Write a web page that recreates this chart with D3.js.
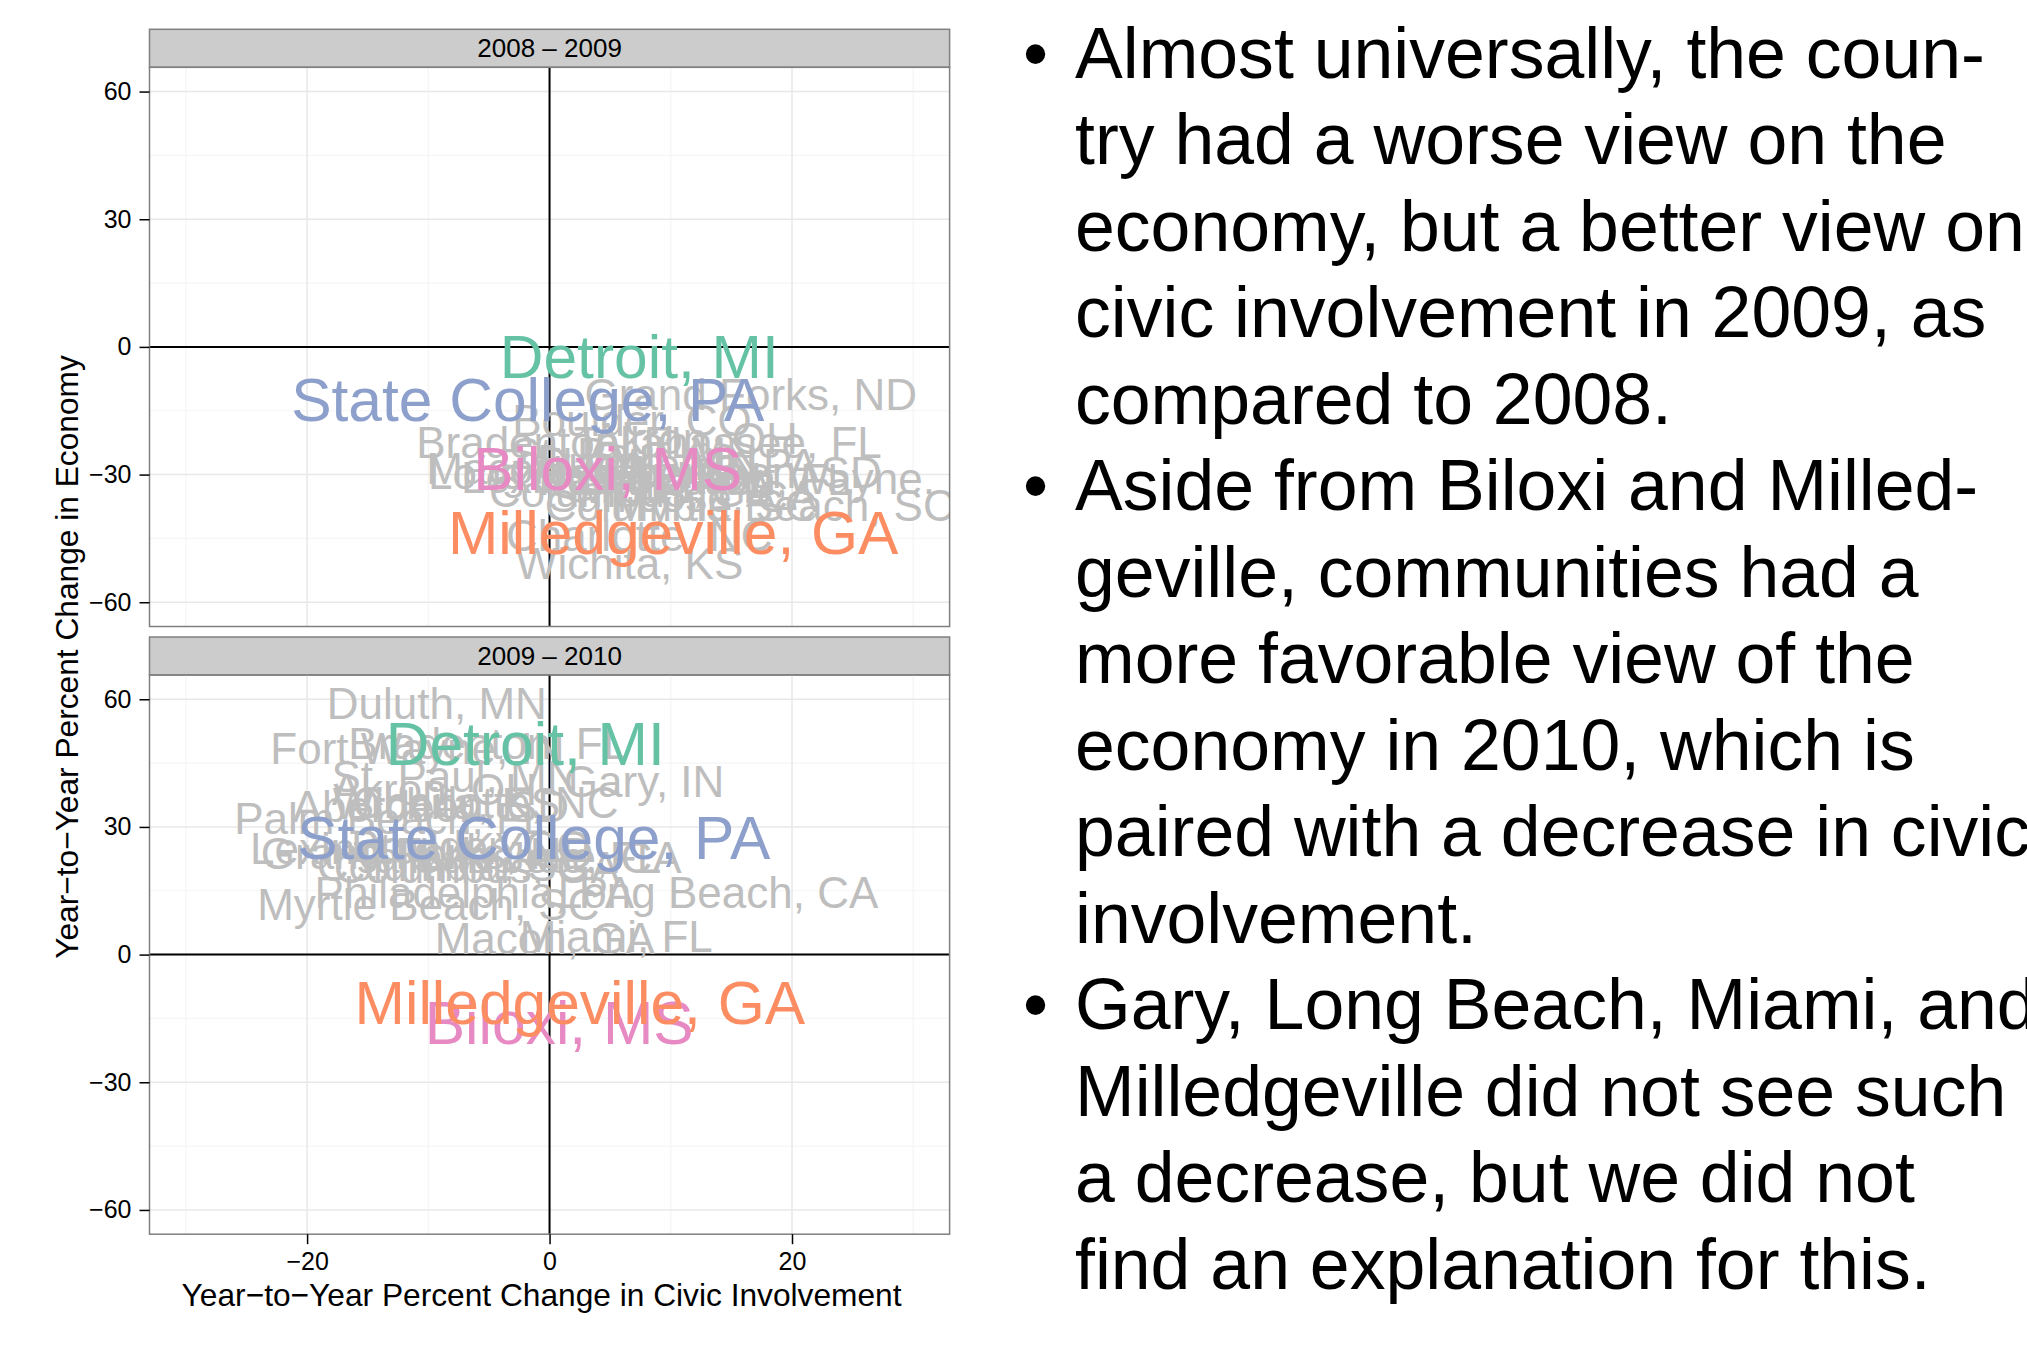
<!DOCTYPE html>
<html>
<head>
<meta charset="utf-8">
<script src="https://cdn.jsdelivr.net/npm/d3@7"></script>
<style>
  body { margin: 0; background: #fff; overflow: hidden; }
  text { font-family: "Liberation Sans", Arial, Helvetica, sans-serif; }
</style>
</head>
<body>
<svg id="chart"></svg>
<script>
// Data
const periods = ["2008 – 2009", "2009 – 2010"];

const cities = [
  "Aberdeen, SD", "Akron, OH", "Biloxi, MS", "Boulder, CO", "Bradenton, FL",
  "Charlotte, NC", "Columbia, SC", "Columbus, GA", "Detroit, MI", "Duluth, MN",
  "Fort Wayne, IN", "Gary, IN", "Grand Forks, ND", "Lexington, KY", "Long Beach, CA",
  "Macon, GA", "Miami, FL", "Milledgeville, GA", "Myrtle Beach, SC", "Palm Beach, FL",
  "Philadelphia, PA", "San Jose, CA", "St. Paul, MN", "State College, PA", "Tallahassee, FL",
  "Wichita, KS"
];

const civic0809 = [16.0, 12.0, 4.8, 6.8, 0.5, 7.4, 10.8, 6.8, 7.4, 8.0,
  24.3, 9.0, 16.6, 4.0, 3.2, -1.1, 10.0, 10.2, 19.3, 12.0,
  9.0, 11.0, 7.0, -1.8, 14.7, 6.6];
const econ0809 = [-29.4, -21.4, -28.6, -17.1, -22.5, -44.3, -37.1, -34.0, -2.3, -27.0,
  -30.8, -31.0, -11.2, -30.5, -29.6, -28.4, -33.0, -43.6, -37.1, -31.0,
  -27.5, -35.0, -25.0, -12.2, -22.5, -50.8];

const civic0910 = [-9.8, -9.5, 0.8, -6.5, -5.1, -5.3, -8.0, -6.0, -2.0, -9.3,
  -10.9, 7.8, -10.1, -13.4, 13.9, -0.4, 5.5, 2.5, -10.0, -13.1,
  -6.2, -0.2, -7.8, -1.3, -3.5, -8.5];
const econ0910 = [34.9, 38.8, -16.0, 25.5, 49.6, 35.8, 21.0, 20.5, 49.6, 59.1,
  48.5, 40.8, 23.8, 24.9, 14.6, 3.8, 4.3, -11.2, 11.8, 32.0,
  14.7, 22.9, 41.9, 27.5, 23.0, 35.5];

const highlighted = ["Detroit, MI", "Milledgeville, GA", "State College, PA", "Biloxi, MS"];
const highlightColors = ["#66c2a5", "#fc8d62", "#8da0cb", "#e78ac3"];

const xTicks = [-20, 0, 20];
const xMinor = [-30, -10, 10, 30];
const yTicks = [-60, -30, 0, 30, 60];
const yMinor = [-45, -15, 15, 45];

const xTitle = "Year\u2212to\u2212Year Percent Change in Civic Involvement";
const yTitle = "Year\u2212to\u2212Year Percent Change in Economy";

const notes = [
  ["Almost universally, the coun-", "try had a worse view on the", "economy, but a better view on",
   "civic involvement in 2009, as", "compared to 2008."],
  ["Aside from Biloxi and Milled-", "geville, communities had a", "more favorable view of the",
   "economy in 2010, which is", "paired with a decrease in civic", "involvement."],
  ["Gary, Long Beach, Miami, and", "Milledgeville did not see such", "a decrease, but we did not",
   "find an explanation for this."]
];

// Layout
const width = 2027;
const height = 1347;
const panelLeft = 149.5;
const panelRight = 949.6;
const panelTops = [67.3, 675];
const panelHeight = 559.2;
const stripHeight = 38;

const xScale = d3.scaleLinear().domain([-33, 33]).range([panelLeft, panelRight]);

const colorOf = d3.scaleOrdinal().domain(highlighted).range(highlightColors).unknown("#bebebe");

const fmt = d => d < 0 ? "\u2212" + Math.abs(d) : String(d);

const svg = d3.select("#chart").attr("width", width).attr("height", height);
svg.append("rect").attr("width", width).attr("height", height).attr("fill", "#fff");

const defs = svg.append("defs");

periods.forEach((period, p) => {
  const top = panelTops[p];
  const yScale = d3.scaleLinear().domain([-65.7, 65.7]).range([top + panelHeight, top]);
  const civic = p === 0 ? civic0809 : civic0910;
  const econ = p === 0 ? econ0809 : econ0910;
  const rows = cities.map((c, i) => ({city: c, x: civic[i], y: econ[i]}));

  // strip
  svg.append("rect")
    .attr("x", panelLeft).attr("y", top - stripHeight)
    .attr("width", panelRight - panelLeft).attr("height", stripHeight)
    .attr("fill", "#cccccc").attr("stroke", "#7f7f7f").attr("stroke-width", 1.5);
  svg.append("text")
    .attr("x", (panelLeft + panelRight) / 2).attr("y", top - stripHeight / 2)
    .attr("dy", "0.35em").attr("text-anchor", "middle")
    .attr("font-size", 26).text(period);

  const g = svg.append("g");

  // grid
  g.selectAll("line.xminor").data(xMinor).join("line")
    .attr("x1", d => xScale(d)).attr("x2", d => xScale(d))
    .attr("y1", top).attr("y2", top + panelHeight)
    .attr("stroke", "#f5f5f5").attr("stroke-width", 1.2);
  g.selectAll("line.yminor").data(yMinor).join("line")
    .attr("y1", d => yScale(d)).attr("y2", d => yScale(d))
    .attr("x1", panelLeft).attr("x2", panelRight)
    .attr("stroke", "#f5f5f5").attr("stroke-width", 1.2);
  g.selectAll("line.xmajor").data(xTicks).join("line")
    .attr("x1", d => xScale(d)).attr("x2", d => xScale(d))
    .attr("y1", top).attr("y2", top + panelHeight)
    .attr("stroke", "#e8e8e8").attr("stroke-width", 1.5);
  g.selectAll("line.ymajor").data(yTicks).join("line")
    .attr("y1", d => yScale(d)).attr("y2", d => yScale(d))
    .attr("x1", panelLeft).attr("x2", panelRight)
    .attr("stroke", "#e8e8e8").attr("stroke-width", 1.5);

  // zero lines
  g.append("line")
    .attr("x1", xScale(0)).attr("x2", xScale(0))
    .attr("y1", top).attr("y2", top + panelHeight)
    .attr("stroke", "#000").attr("stroke-width", 2);
  g.append("line")
    .attr("x1", panelLeft).attr("x2", panelRight)
    .attr("y1", yScale(0)).attr("y2", yScale(0))
    .attr("stroke", "#000").attr("stroke-width", 2);

  // labels, clipped to the panel
  defs.append("clipPath").attr("id", "clip" + p)
    .append("rect").attr("x", panelLeft).attr("y", top)
    .attr("width", panelRight - panelLeft).attr("height", panelHeight);
  const labels = g.append("g").attr("clip-path", `url(#clip${p})`);

  const grey = rows.filter(d => !highlighted.includes(d.city));
  // Biloxi first so Milledgeville sits on top of it
  const order = ["Biloxi, MS", "Detroit, MI", "Milledgeville, GA", "State College, PA"]
    .map(h => rows.find(d => d.city === h));

  labels.selectAll("text.grey").data(grey).join("text")
    .attr("class", "grey")
    .attr("x", d => xScale(d.x)).attr("y", d => yScale(d.y))
    .attr("dy", "0.36em").attr("text-anchor", "middle")
    .attr("font-size", 44).attr("fill", d => colorOf(d.city))
    .text(d => d.city);
  labels.selectAll("text.hl").data(order).join("text")
    .attr("class", "hl")
    .attr("x", d => xScale(d.x)).attr("y", d => yScale(d.y))
    .attr("dy", "0.36em").attr("text-anchor", "middle")
    .attr("font-size", 60.5).attr("fill", d => colorOf(d.city))
    .text(d => d.city);

  // panel border
  svg.append("rect")
    .attr("x", panelLeft).attr("y", top)
    .attr("width", panelRight - panelLeft).attr("height", panelHeight)
    .attr("fill", "none").attr("stroke", "#7f7f7f").attr("stroke-width", 1.5);

  // y axis
  const yAxis = svg.append("g")
    .attr("transform", `translate(${panelLeft},0)`)
    .call(d3.axisLeft(yScale).tickValues(yTicks).tickFormat(fmt).tickSize(10).tickPadding(8));
  yAxis.select(".domain").remove();
  yAxis.selectAll(".tick line").attr("stroke", "#000").attr("stroke-width", 1.5);
  yAxis.selectAll(".tick text").attr("font-size", 25).attr("fill", "#000")
    .style("font-family", "'Liberation Sans', Arial, sans-serif");

  if (p === 1) {
    const xAxis = svg.append("g")
      .attr("transform", `translate(0,${top + panelHeight})`)
      .call(d3.axisBottom(xScale).tickValues(xTicks).tickFormat(fmt).tickSize(10).tickPadding(8));
    xAxis.select(".domain").remove();
    xAxis.selectAll(".tick line").attr("stroke", "#000").attr("stroke-width", 1.5);
    xAxis.selectAll(".tick text").attr("font-size", 25).attr("fill", "#000")
      .style("font-family", "'Liberation Sans', Arial, sans-serif");
  }
});

// axis titles
svg.append("text")
  .attr("x", (panelLeft + panelRight) / 2 - 8).attr("y", 1295)
  .attr("dy", "0.35em").attr("text-anchor", "middle")
  .attr("font-size", 31.7).text(xTitle);
svg.append("text")
  .attr("transform", "translate(67,657) rotate(-90)")
  .attr("dy", "0.35em").attr("text-anchor", "middle")
  .attr("font-size", 31.7).text(yTitle);

// bullet notes on the right
const noteSize = 71.6;
const lineStep = 86.5;
let line = 0;
const notesG = svg.append("g");
notes.forEach(par => {
  notesG.append("text")
    .attr("x", 1023).attr("y", 77.6 + line * lineStep)
    .attr("font-size", noteSize).text("\u2022");
  par.forEach(t => {
    notesG.append("text")
      .attr("x", 1075).attr("y", 77.6 + line * lineStep)
      .attr("font-size", noteSize).text(t);
    line++;
  });
});
</script>
</body>
</html>
